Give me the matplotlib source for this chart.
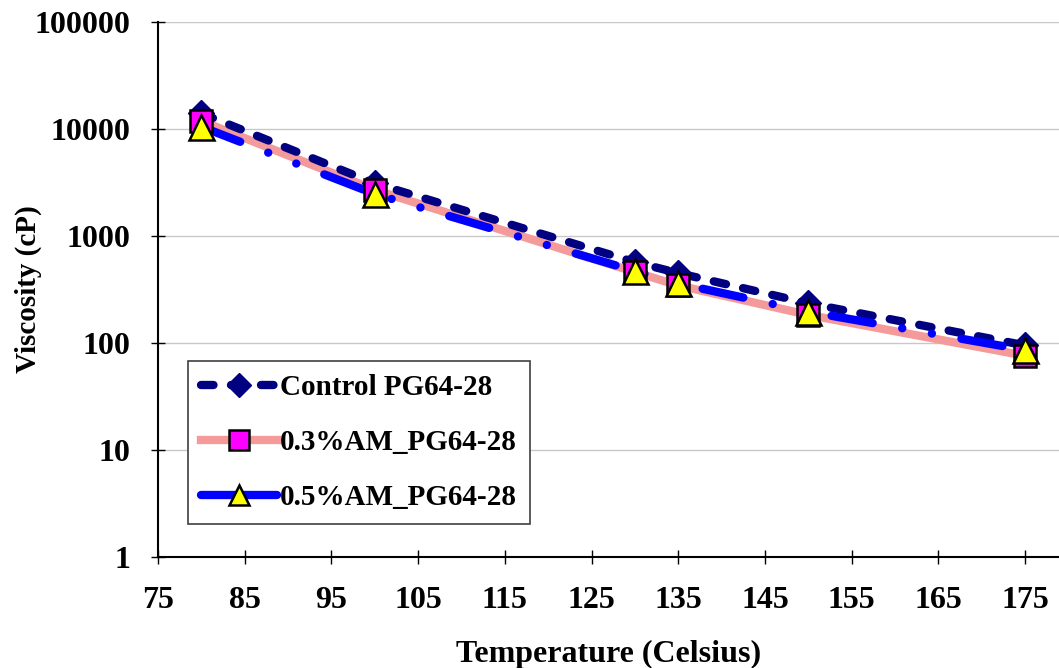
import matplotlib
matplotlib.use("Agg")
import matplotlib.pyplot as plt
from matplotlib.lines import Line2D

plt.rcParams['font.family'] = ['Liberation Serif', 'DejaVu Serif']
plt.rcParams['font.weight'] = 'bold'

temps = [80, 100, 130, 135, 150, 175]
control = [14000, 3100, 570, 450, 235, 95]
am03 = [11900, 2700, 460, 345, 183, 76]
am05 = [10500, 2470, 470, 360, 196, 86]
labels = ["Control PG64-28", "0.3%AM_PG64-28", "0.5%AM_PG64-28"]
xticks = [75, 85, 95, 105, 115, 125, 135, 145, 155, 165, 175]
yticks = [1, 10, 100, 1000, 10000, 100000]

fig = plt.figure(figsize=(10.59, 6.68), dpi=100)
ax = fig.add_axes([158/1059, 1-557/668, 1-158/1059, (557-22)/668])

navy = '#000080'
blue = '#0000FF'
salmon = '#F59A9A'
navy_dash = (1.5, 2.1)
blue_dash = (5, 3.6, 0.01, 3.6, 0.01, 3.6)

# lines
ax.plot(temps, am03, color=salmon, lw=6, zorder=2)
ax.plot(temps, control, color=navy, lw=6, dashes=navy_dash,
        dash_capstyle='round', zorder=3)
ax.plot(temps, am05, color=blue, lw=6, dashes=blue_dash,
        dash_capstyle='round', zorder=4)
# markers
ax.plot(temps, control, ls='none', marker='D', ms=13, mfc=navy, mec=navy, zorder=5)
ax.plot(temps, am03, ls='none', marker='s', ms=16, mfc='#FF00FF', mec='black', mew=1.8, zorder=6)
ax.plot(temps, am05, ls='none', marker='^', ms=18, mfc='#FFFF00', mec='black', mew=1.8, zorder=7)

ax.set_yscale('log')
ax.set_ylim(1, 100000)
ax.set_xlim(75, 178.9)
ax.set_xticks(xticks)
ax.set_xticklabels([str(t) for t in xticks])
ax.set_yticks(yticks)
ax.set_yticklabels([str(t) for t in yticks])
ax.yaxis.set_minor_locator(matplotlib.ticker.NullLocator())
ax.tick_params(axis='both', direction='inout', length=10, width=1, labelsize=23)
ax.tick_params(axis='x', pad=16)
ax.tick_params(axis='y', pad=15)
ax.grid(axis='y', color='#C8C8C8', lw=1, zorder=0)
for s in ['top', 'right']:
    ax.spines[s].set_visible(False)
for s in ['left', 'bottom']:
    ax.spines[s].set_linewidth(1.5)

ax.set_xlabel("Temperature (Celsius)", fontsize=23, fontweight='bold', labelpad=18)
ax.set_ylabel("Viscosity (cP)", fontsize=21, fontweight='bold')
ax.yaxis.set_label_coords((42 - 158) / 901, 0.5)

handles = [
    Line2D([], [], color=navy, lw=6, dashes=navy_dash, dash_capstyle='round',
           marker='D', ms=12, mfc=navy, mec=navy),
    Line2D([], [], color=salmon, lw=6, marker='s', ms=14, mfc='#FF00FF', mec='black', mew=1.8),
    Line2D([], [], color=blue, lw=6, solid_capstyle='round', marker='^', ms=15,
           mfc='#FFFF00', mec='black', mew=1.8),
]
leg = ax.legend(handles, labels, loc='lower left', bbox_to_anchor=(188/1059, 1-524/668),
                bbox_transform=fig.transFigure, borderaxespad=0, fontsize=21,
                handlelength=2.6, handletextpad=0.1, labelspacing=0.95,
                fancybox=False, edgecolor='#404040', framealpha=1, borderpad=0.45)
leg.get_frame().set_linewidth(1.2)
for t in leg.get_texts():
    t.set_fontweight('bold')

fig.savefig("out.png", dpi=100)
